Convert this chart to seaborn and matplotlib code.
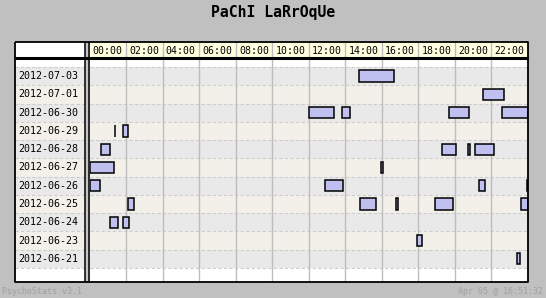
import matplotlib
matplotlib.use("Agg")
import matplotlib.pyplot as plt
import seaborn as sns
import pandas as pd

# ---------------- data ----------------
title = "PaChI LaRrOqUe"
days = ["2012-07-03", "2012-07-01", "2012-06-30", "2012-06-29", "2012-06-28",
        "2012-06-27", "2012-06-26", "2012-06-25", "2012-06-24", "2012-06-23",
        "2012-06-21"]
hour_ticks = [0, 2, 4, 6, 8, 10, 12, 14, 16, 18, 20, 22]
hour_labels = ["00:00", "02:00", "04:00", "06:00", "08:00", "10:00",
               "12:00", "14:00", "16:00", "18:00", "20:00", "22:00"]
sess_day = ["2012-07-03",
            "2012-07-01",
            "2012-06-30", "2012-06-30", "2012-06-30", "2012-06-30",
            "2012-06-29", "2012-06-29",
            "2012-06-28", "2012-06-28", "2012-06-28", "2012-06-28",
            "2012-06-27", "2012-06-27",
            "2012-06-26", "2012-06-26", "2012-06-26", "2012-06-26",
            "2012-06-25", "2012-06-25", "2012-06-25", "2012-06-25", "2012-06-25",
            "2012-06-24", "2012-06-24",
            "2012-06-23",
            "2012-06-21"]
sess_start = [14.77,
              21.51,
              12.03, 13.84, 19.70, 22.60,
              1.40, 1.84,
              0.63, 19.32, 20.74, 21.12,
              0.00, 15.97,
              0.00, 12.90, 21.34, 23.93,
              2.13, 14.82, 16.78, 18.93, 23.64,
              1.12, 1.84,
              17.95,
              23.42]
sess_end = [16.68,
            22.71,
            13.40, 14.27, 20.79, 24.00,
            1.40, 2.13,
            1.12, 20.08, 20.82, 22.16,
            1.36, 16.05,
            0.58, 13.86, 21.64, 24.00,
            2.46, 15.67, 16.86, 19.92, 24.00,
            1.58, 2.16,
            18.19,
            23.56]
footer_left = "PsychoStats v3.1"
footer_right = "Apr 05 @ 16:51:32"

# ---------------- style ----------------
sns.set_theme(style="white")
plt.rcParams["font.family"] = ["DejaVu Sans Mono", "DejaVu Sans"]

BG = "#c0c0c0"
ROW_A = "#e9e9e9"
ROW_B = "#f3f0e9"
BAR = "#c0c0f0"
GRID = "#bdbdbd"
HEAD = "#ffffe0"

W, H = 546, 298
fig = plt.figure(figsize=(W / 100, H / 100), dpi=100, facecolor=BG)


def ax_px(x0, y0, x1, y1, **kw):
    a = fig.add_axes([x0 / W, 1 - y1 / H, (x1 - x0) / W, (y1 - y0) / H], **kw)
    for s in a.spines.values():
        s.set_visible(False)
    a.set_xticks([])
    a.set_yticks([])
    return a


df = pd.DataFrame({"day": sess_day, "start": sess_start, "end": sess_end})
df["row"] = df["day"].map({d: i for i, d in enumerate(days)})
df["dur"] = df["end"] - df["start"]

TOP_Y, BOT_Y = 59, 282
ROW_H = 18.2
ylo = -0.5 - (67 - TOP_Y) / ROW_H
yhi = len(days) - 0.5 + (BOT_Y - 268) / ROW_H

# ---- body ----
ax = ax_px(89.5, TOP_Y, 528, BOT_Y, facecolor="white")
ax.set_xlim(0, 24)
ax.set_ylim(yhi, ylo)
for i in range(len(days)):
    ax.axhspan(i - 0.5, i + 0.5, color=ROW_A if i % 2 == 0 else ROW_B, lw=0, zorder=0)
for i in range(len(days) + 1):
    ax.axhline(i - 0.5, color="#cdcdcd", ls=(0, (3, 2)), lw=0.8, zorder=1)
for h in hour_ticks[1:]:
    ax.axvline(h, color=GRID, lw=1, zorder=2)
ax.barh(df["row"], df["dur"], left=df["start"], height=0.62,
        color=BAR, edgecolor="black", linewidth=1.1, zorder=3)

# ---- label column ----
lab = ax_px(15, TOP_Y, 84.5, BOT_Y, facecolor="white")
lab.set_xlim(0, 69.5)
lab.set_ylim(yhi, ylo)
for i, d in enumerate(days):
    lab.axhspan(i - 0.5, i + 0.5, color=ROW_A if i % 2 == 0 else ROW_B, lw=0, zorder=0)
    lab.text(3, i, d, ha="left", va="center", fontsize=7.2, color="black")
for i in range(len(days) + 1):
    lab.axhline(i - 0.5, color="#cdcdcd", ls=(0, (3, 2)), lw=0.8, zorder=1)

# ---- separator ----
ax_px(84.5, 42, 89.5, BOT_Y, facecolor="#c6c6c6")

# ---- header ----
hdr = ax_px(89.5, 42, 528, 57.5, facecolor=HEAD)
hdr.set_xlim(0, 24)
hdr.set_ylim(0, 1)
for h in hour_ticks[1:]:
    hdr.axvline(h, color=GRID, lw=1)
for h, t in zip(hour_ticks, hour_labels):
    hdr.text(h + 1, 0.45, t, ha="center", va="center", fontsize=7.1, color="black")
ax_px(15, 42, 84.5, 57.5, facecolor="white")

# ---- overlay (frame, title, footer) ----
ov = fig.add_axes([0, 0, 1, 1], facecolor="none")
ov.set_xlim(0, W)
ov.set_ylim(H, 0)
ov.axis("off")
kw = dict(color="black", solid_capstyle="butt")
ov.plot([15, 528, 528, 15, 15], [42, 42, 282, 282, 42], lw=1.3, **kw)
ov.plot([15, 528], [58, 58], lw=2.2, **kw)
ov.plot([84.5, 84.5], [42, 282], lw=1.1, **kw)
ov.plot([89.3, 89.3], [42, 282], lw=1.1, **kw)
ov.text(273.5, 12.8, title, ha="center", va="center", fontsize=10.6,
        fontweight="bold", color="black")
ov.text(2.5, 292, footer_left, ha="left", va="center", fontsize=6.0, color="#a0a0a0")
ov.text(543, 292, footer_right, ha="right", va="center", fontsize=6.0, color="#a0a0a0")

fig.savefig("out.png", dpi=100, facecolor=BG)
